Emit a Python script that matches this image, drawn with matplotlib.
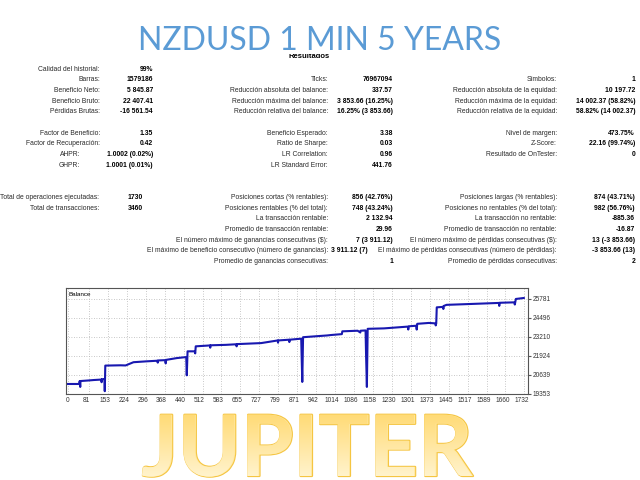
import matplotlib
matplotlib.use('Agg')
import numpy as np
import matplotlib.pyplot as plt
import matplotlib.patheffects as pe
from matplotlib.textpath import TextPath
from matplotlib.font_manager import FontProperties
from matplotlib.patches import Rectangle
from matplotlib.transforms import Affine2D, IdentityTransform, ScaledTranslation

plt.rcParams['font.family'] = ['Liberation Sans', 'DejaVu Sans']

# report table (row index -> label / value)
left_rows = [0, 1, 2, 3, 4, 6, 7, 8, 9]
left_labels = ["Calidad del historial:", "Barras:", "Beneficio Neto:", "Beneficio Bruto:",
               "Pérdidas Brutas:", "Factor de Beneficio:", "Factor de Recuperación:",
               "AHPR:", "GHPR:"]
left_values = ["99%", "1579186", "5 845.87", "22 407.41", "-16 561.54", "1.35", "0.42",
               "1.0002 (0.02%)", "1.0001 (0.01%)"]

total_rows = [12, 13]
total_labels = ["Total de operaciones ejecutadas:", "Total de transacciones:"]
total_values = ["1730", "3460"]

mid_rows = [1, 2, 3, 4, 6, 7, 8, 9, 12, 13, 14, 15, 16, 17, 18]
mid_labels = ["Ticks:", "Reducción absoluta del balance:", "Reducción máxima del balance:",
              "Reducción relativa del balance:", "Beneficio Esperado:", "Ratio de Sharpe:",
              "LR Correlation:", "LR Standard Error:", "Posiciones cortas (% rentables):",
              "Posiciones rentables (% del total):", "La transacción rentable:",
              "Promedio de transacción rentable:",
              "El número máximo de ganancias consecutivas ($):",
              "El máximo de beneficio consecutivo (número de ganancias):",
              "Promedio de ganancias consecutivas:"]
mid_values = ["76967094", "337.57", "3 853.66 (16.25%)", "16.25% (3 853.66)", "3.38", "0.03",
              "0.96", "441.76", "856 (42.76%)", "748 (43.24%)", "2 132.94", "29.96",
              "7 (3 911.12)", "3 911.12 (7)", "1"]

right_rows = [1, 2, 3, 4, 6, 7, 8, 12, 13, 14, 15, 16, 17, 18]
right_labels = ["Símbolos:", "Reducción absoluta de la equidad:", "Reducción máxima de la equidad:",
                "Reducción relativa de la equidad:", "Nivel de margen:", "Z-Score:",
                "Resultado de OnTester:", "Posiciones largas (% rentables):",
                "Posiciones no rentables (% del total):", "La transacción no rentable:",
                "Promedio de transacción no rentable:",
                "El número máximo de pérdidas consecutivas ($):",
                "El máximo de pérdidas consecutivas (número de pérdidas):",
                "Promedio de pérdidas consecutivas:"]
right_values = ["1", "10 197.72", "14 002.37 (58.82%)", "58.82% (14 002.37)", "473.75%",
                "22.16 (99.74%)", "0", "874 (43.71%)", "982 (56.76%)", "-885.36", "-16.87",
                "13 (-3 853.66)", "-3 853.66 (13)", "2"]

# balance curve (trade number, balance)
trade_n = [0, 44, 46, 48, 49, 80, 100, 128, 129, 130, 140, 141, 143, 200, 220, 250, 300, 340,
           342, 343, 370, 372, 374, 414, 450, 452, 455, 482, 484, 486, 540, 541, 542, 600,
           640, 641, 642, 734, 797, 798, 799, 840, 841, 842, 886, 890, 893, 985, 1000, 1040,
           1042, 1100, 1110, 1111, 1130, 1132, 1135, 1138, 1200, 1290, 1292, 1294, 1322,
           1324, 1326, 1370, 1395, 1396, 1398, 1400, 1424, 1425, 1426, 1437, 1500, 1636,
           1637, 1638, 1694, 1696, 1700, 1730]
balance = [20000, 20000, 20200, 19800, 20200, 20240, 20270, 20300, 20120, 20320, 20340, 19510,
           21250, 21270, 21260, 21480, 21540, 21580, 21450, 21600, 21620, 21400, 21640, 21760,
           21830, 20590, 22220, 22220, 22080, 22560, 22620, 22470, 22630, 22660, 22700, 22560,
           22710, 22780, 22960, 22810, 22960, 23010, 22850, 23010, 23080, 20140, 23180, 23300,
           23330, 23390, 23580, 23620, 23500, 23620, 23640, 21950, 19800, 23750, 23780, 23900,
           23700, 23920, 23960, 23700, 24090, 24150, 24120, 23980, 24120, 25210, 25240, 25100,
           25300, 25380, 25420, 25510, 25310, 25520, 25550, 25400, 25780, 25846]

x_ticks = [0, 81, 153, 224, 296, 368, 440, 512, 583, 655, 727, 799, 871, 942, 1014, 1086,
           1158, 1230, 1301, 1373, 1445, 1517, 1589, 1660, 1732]
y_ticks = [19353, 20639, 21924, 23210, 24496, 25781]

W, H = 640, 480


def fx(x):
    return x / W


def fy(y):
    return 1 - y / H


def row_y(r):
    return fy(70.8 + r * 10.67)


fig = plt.figure(figsize=(6.4, 4.8), dpi=100)
fig.patch.set_facecolor('white')

FS = 4.9
LAB = '#2a2a2a'


def put_label(x, r, s):
    fig.text(fx(x), row_y(r), s, ha='right', va='baseline', size=FS, color=LAB)


def put_value(x, r, s, ha='right'):
    fig.text(fx(x), row_y(r), s, ha=ha, va='baseline', size=FS, weight='bold', color='black')


for r, lab, val in zip(left_rows, left_labels, left_values):
    lx = 80 if len(val) > 10 else 100
    put_label(lx, r, lab)
    put_value(153, r, val)

for r, lab, val in zip(total_rows, total_labels, total_values):
    put_label(99, r, lab)
    put_value(128, r, val, ha='left')

for r, lab, val in zip(mid_rows, mid_labels, mid_values):
    put_label(328, r, lab)
    if r == 17:
        put_value(331, r, val, ha='left')
    else:
        put_value(393, r, val)

for r, lab, val in zip(right_rows, right_labels, right_values):
    put_label(557, r, lab)
    put_value(635, r, val)

# header, partly hidden behind the title
fig.text(fx(309), fy(58.5), 'Resultados', ha='center', va='baseline', size=5.5,
         weight='bold', zorder=3)
fig.add_artist(Rectangle((fx(110), fy(53.5)), fx(420), 53.5 / H, transform=fig.transFigure,
                         facecolor='white', edgecolor='none', zorder=4))
fig.text(fx(319.5), fy(50), 'NZDUSD 1 MIN 5 YEARS', ha='center', va='baseline',
         family='Lato', size=23, color='#5B9BD5', zorder=5)

# balance chart
ax = fig.add_axes([fx(66), fy(393.5), (528 - 66) / W, (393.5 - 288) / H])
ax.plot(trade_n, balance, color='#1818b0', lw=1.5)
ax.set_xlim(-6, 1746)
ax.set_ylim(19353, 26525)
ax.set_xticks(x_ticks)
ax.set_xticklabels([str(t) for t in x_ticks])
ax.set_yticks(y_ticks)
ax.set_yticklabels([str(t) for t in y_ticks])
ax.yaxis.tick_right()
ax.grid(True, ls=(0, (1, 2)), color='#b5b5b5', lw=0.6)
ax.tick_params(axis='x', length=0, pad=2.5, labelsize=4.7, labelcolor='#333333')
ax.tick_params(axis='y', length=2, pad=1.5, labelsize=4.7, labelcolor='#333333',
               color='#555555')
for sp in ax.spines.values():
    sp.set_color('#555555')
    sp.set_linewidth(0.8)
shift = ScaledTranslation(-3.0 / 100, 0, fig.dpi_scale_trans)
for lbl in ax.get_xticklabels()[1:]:
    lbl.set_transform(lbl.get_transform() + shift)
ax.text(0.006, 0.965, 'Balance', transform=ax.transAxes, ha='left', va='top', size=4.5)

# big gold word with a vertical gradient
base = 476
jfp = FontProperties(family='Lato', weight='bold', size=61)
jup = fig.text(fx(307.5), fy(base), 'JUPITER', ha='center', va='baseline', fontproperties=jfp,
               color='#FFE89E', zorder=5,
               path_effects=[pe.withStroke(linewidth=1.6, foreground='#F5C542')])
fig.canvas.draw()
bb = jup.get_window_extent()
tp = TextPath((0, 0), 'JUPITER', prop=jfp)
ext = tp.get_extents()
sc = fig.dpi / 72
tr = Affine2D().translate(-ext.x0, 0).scale(sc).translate(bb.x0, H - base)
gpath = tr.transform_path(tp)
gx0 = int(bb.x0) - 2
gy0 = int(H - base + ext.y0 * sc) - 2
gw = int(ext.width * sc) + 6
gh = int(ext.height * sc) + 6
top = np.array([255, 218, 115]) / 255
bot = np.array([255, 244, 208]) / 255
t = np.linspace(0, 1, gh)[:, None]
grad = np.ones((gh, gw, 4))
grad[:, :, :3] = (top[None, None, :] * (1 - t[:, :, None]) + bot[None, None, :] * t[:, :, None])
im = fig.figimage(grad, xo=gx0, yo=gy0, origin='upper', zorder=6)
im.set_clip_path(gpath, IdentityTransform())

fig.savefig('out.png', dpi=100)
